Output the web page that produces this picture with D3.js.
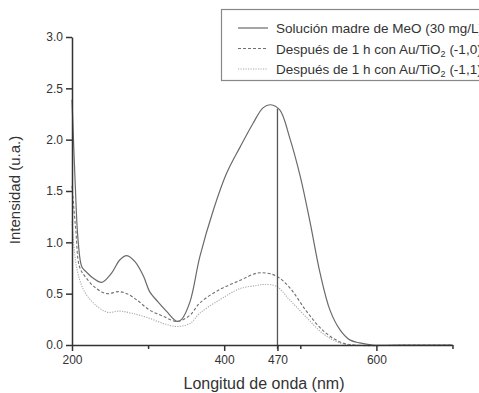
<!DOCTYPE html>
<html lang="en">
  <head>
    <meta charset="utf-8">
    <title>Espectro UV-Vis MeO</title>
    <script src="https://d3js.org/d3.v7.js"></script>
    <style>
      body { margin: 0; background: #fff; }
      svg text { font-family: "Liberation Sans", Arial, sans-serif; fill: #333; }
    </style>
  </head>

  <body>
    <svg></svg>

  <script>

// data (wavelength nm, intensity u.a.)

  const madre = [[200,2.39],[204,1.61],[208,1.02],[213,0.76],[219,0.71],[228,0.65],[239,0.61],
                 [252,0.70],[263,0.83],[272,0.87],[283,0.81],[294,0.67],[302,0.52],[313,0.42],
                 [324,0.33],[338,0.23],[344,0.25],[355,0.42],[368,0.86],[386,1.32],[403,1.67],
                 [421,1.93],[438,2.16],[451,2.31],[461,2.34],[473,2.29],[486,2.02],[500,1.64],
                 [513,1.19],[526,0.70],[539,0.34],[552,0.15],[565,0.05],[578,0.02],[595,0.0],
                 [650,0.0],[700,0.0]];

  const au10 = [[200,1.55],[205,1.12],[210,0.76],[219,0.65],[232,0.55],[246,0.50],[261,0.52],
                [272,0.50],[285,0.44],[302,0.34],[320,0.28],[338,0.23],[355,0.29],[368,0.41],
                [394,0.54],[421,0.63],[443,0.70],[456,0.70],[469,0.67],[486,0.56],[508,0.33],
                [530,0.14],[552,0.03],[570,0.0],[650,0.0],[700,0.0]];

  const au11 = [[200,1.20],[206,0.76],[215,0.54],[228,0.41],[246,0.32],[263,0.33],[278,0.31],
                [298,0.27],[320,0.21],[338,0.18],[355,0.21],[368,0.31],[394,0.44],[421,0.55],
                [443,0.58],[452,0.59],[469,0.57],[486,0.44],[508,0.27],[530,0.11],[552,0.02],
                [570,0.0],[650,0.0],[700,0.0]];

  const xMajor = [200, 400, 470, 600];
  const xMinor = [300, 500, 700];
  const yTicks = [0, 0.5, 1.0, 1.5, 2.0, 2.5, 3.0];
  const marker = 470;

  const names = ["Solución madre de MeO (30 mg/L)",
                 "Después de 1 h con Au/TiO|2| (-1,0)",
                 "Después de 1 h con Au/TiO|2| (-1,1)"];

// svg and scales

  const w = 479;
  const h = 393;
  const margin = {top: 37, right: 26, bottom: 48, left: 72};

  const svg = d3.select("svg")
      .attr("width", w)
      .attr("height", h);

  const xScale = d3.scaleLinear()
      .domain([200, 700])
      .range([margin.left, 72 + 500 * 0.761]);

  const yScale = d3.scaleLinear()
      .domain([0, 3])
      .range([h - margin.bottom, margin.top]);

  const line = d3.line()
      .x(d => xScale(d[0]))
      .y(d => yScale(d[1]))
      .curve(d3.curveCatmullRom.alpha(0.5));

// curves

  const series = [
    {data: madre, color: "#6a6a6a", dash: null, width: 1.2},
    {data: au10, color: "#707070", dash: "3,2", width: 1.1},
    {data: au11, color: "#a8a8a8", dash: "1.2,1.3", width: 1.1}
  ];

  svg.append("g")
    .selectAll("path")
    .data(series)
    .enter().append("path")
      .attr("d", d => line(d.data))
      .attr("fill", "none")
      .attr("stroke", d => d.color)
      .attr("stroke-width", d => d.width)
      .attr("stroke-dasharray", d => d.dash);

// vertical marker at 470 nm, up to the solid curve

  const interp = d3.scaleLinear()
      .domain(madre.map(d => d[0]))
      .range(madre.map(d => d[1]));

  svg.append("line")
      .attr("x1", xScale(marker))
      .attr("x2", xScale(marker))
      .attr("y1", yScale(0) + 4)
      .attr("y2", yScale(interp(marker)))
      .attr("stroke", "#555")
      .attr("stroke-width", 1.3);

// axes

  const xAxis = d3.axisBottom(xScale)
      .tickValues(xMajor)
      .tickSize(6)
      .tickSizeOuter(0)
      .tickFormat(d3.format("d"));

  const xAxisMinor = d3.axisBottom(xScale)
      .tickValues(xMinor)
      .tickSize(4)
      .tickSizeOuter(0)
      .tickFormat("");

  const yAxis = d3.axisLeft(yScale)
      .tickValues(yTicks)
      .tickSize(6)
      .tickSizeOuter(0)
      .tickFormat(d3.format(".1f"));

  const gx = svg.append("g")
      .attr("transform", `translate(0, ${yScale(0)})`)
      .call(xAxis);

  svg.append("g")
      .attr("transform", `translate(0, ${yScale(0)})`)
      .call(xAxisMinor)
      .select(".domain").remove();

  const gy = svg.append("g")
      .attr("transform", `translate(${margin.left}, 0)`)
      .call(yAxis);

  svg.selectAll(".domain, .tick line")
      .attr("stroke", "#333")
      .attr("stroke-width", 1.5);

  gx.selectAll("text")
      .attr("font-size", 12)
      .attr("y", 9)
      .attr("dy", "0.85em");

  gy.selectAll("text")
      .attr("font-size", 12)
      .attr("x", -9);

// axis titles

  svg.append("text")
      .attr("x", 264)
      .attr("y", 389)
      .attr("text-anchor", "middle")
      .attr("font-size", 16)
      .text("Longitud de onda (nm)");

  svg.append("text")
      .attr("transform", "translate(20, 190) rotate(-90)")
      .attr("text-anchor", "middle")
      .attr("font-size", 15)
      .text("Intensidad (u.a.)");

// legend

  const legend = svg.append("g");

  legend.append("rect")
      .attr("x", 221.5)
      .attr("y", 9.5)
      .attr("width", 300)
      .attr("height", 71)
      .attr("fill", "#fff")
      .attr("stroke", "#888")
      .attr("stroke-width", 1.2);

  const rows = legend.selectAll(".row")
    .data(series)
    .enter().append("g")
      .attr("class", "row")
      .attr("transform", (d, i) => `translate(0, ${28 + i * 20.5})`);

  rows.append("line")
      .attr("x1", 238)
      .attr("x2", 268)
      .attr("stroke", d => d.color)
      .attr("stroke-width", d => d.width)
      .attr("stroke-dasharray", d => d.dash);

  rows.append("text")
      .attr("x", 276)
      .attr("y", 5)
      .attr("font-size", 13.5)
      .each(function(d, i) {
        const parts = names[i].split("|");
        const t = d3.select(this);
        t.append("tspan").text(parts[0]);
        if (parts.length > 1) {
          t.append("tspan").attr("font-size", 9).attr("dy", 3).text(parts[1]);
          t.append("tspan").attr("dy", -3).text(parts[2]);
        }
      });

    </script>

  </body>

</html>
